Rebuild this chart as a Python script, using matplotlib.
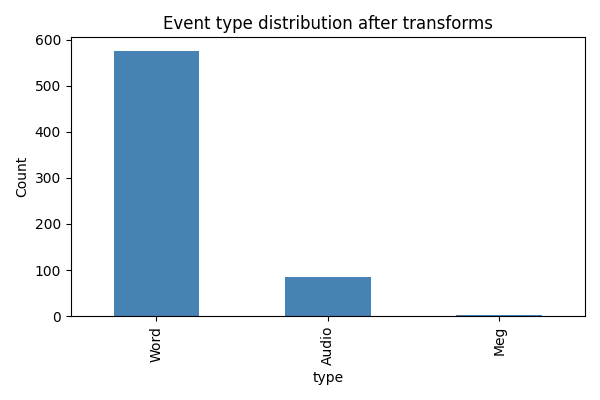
import matplotlib
matplotlib.use("Agg")
import matplotlib.pyplot as plt
import pandas as pd

categories = ["Word", "Audio", "Meg"]
counts = [576, 85, 2]

s = pd.Series(counts, index=pd.Index(categories, name="type"))
fig, ax = plt.subplots(figsize=(6, 4), dpi=100)
s.plot.bar(ax=ax, color="steelblue")
ax.set_title("Event type distribution after transforms")
ax.set_ylabel("Count")
fig.tight_layout()
fig.savefig("out.png")
